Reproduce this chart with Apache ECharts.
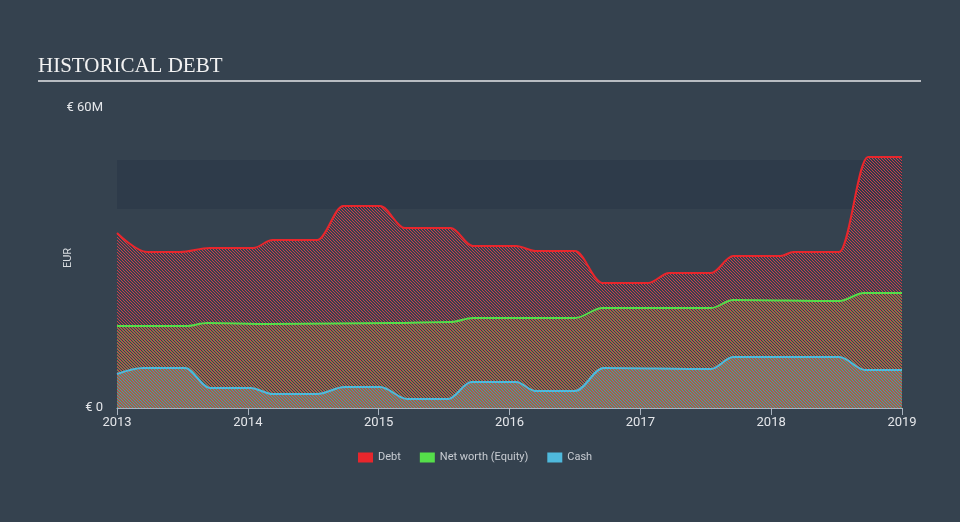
<!DOCTYPE html>
<html><head><meta charset="utf-8">
<script src="https://cdn.jsdelivr.net/npm/echarts@6/dist/echarts.min.js"></script>
<style>html,body{margin:0;padding:0;background:#35424f;}#c{width:960px;height:522px;}</style>
</head><body><div id="c"></div>
<script>
const yAxisTicks = [0, 60];
const yTickLabels = ['€ 0', '€ 60M'];
const xTickYears = [2013, 2014, 2015, 2016, 2017, 2018, 2019];
const seriesNames = ['Debt', 'Net worth (Equity)', 'Cash'];

const debtX = [2013.0, 2013.23, 2013.48, 2013.71, 2014.04, 2014.19, 2014.53, 2014.73, 2015.01, 2015.20, 2015.55, 2015.72, 2016.05, 2016.20, 2016.50, 2016.71, 2017.06, 2017.22, 2017.54, 2017.71, 2018.07, 2018.17, 2018.52, 2018.74, 2019.0];
const debtY = [35.0, 31.2, 31.2, 32.0, 32.0, 33.6, 33.6, 40.4, 40.4, 36.0, 36.0, 32.4, 32.4, 31.4, 31.4, 25.0, 25.0, 27.0, 27.0, 30.4, 30.4, 31.2, 31.2, 50.2, 50.2];

const equityX = [2013.0, 2013.53, 2013.69, 2014.17, 2014.65, 2015.1, 2015.55, 2015.72, 2016.05, 2016.50, 2016.71, 2017.54, 2017.71, 2018.52, 2018.71, 2019.0];
const equityY = [16.4, 16.4, 17.0, 16.8, 16.9, 17.0, 17.2, 18.0, 18.0, 18.0, 20.0, 20.0, 21.6, 21.4, 23.0, 23.0];

const cashX = [2013.0, 2013.2, 2013.52, 2013.71, 2014.02, 2014.19, 2014.53, 2014.74, 2015.01, 2015.22, 2015.53, 2015.71, 2016.05, 2016.2, 2016.5, 2016.72, 2017.54, 2017.71, 2018.52, 2018.72, 2019.0];
const cashY = [6.8, 8.0, 8.0, 4.0, 4.0, 2.8, 2.8, 4.2, 4.2, 1.8, 1.8, 5.2, 5.2, 3.4, 3.4, 8.0, 7.8, 10.2, 10.2, 7.6, 7.6];

const bandRange = [39.8, 49.6];

function zip(xs, ys){ return xs.map((x,i)=>[x, ys[i]]); }

function hatch(color, off){
  const c = document.createElement('canvas');
  c.width = 3; c.height = 3;
  const g = c.getContext('2d');
  g.fillStyle = color;
  for (let y=0;y<3;y++) for (let x=0;x<3;x++){
    if (((x - y + off) % 3 + 3) % 3 === 0) g.fillRect(x,y,1,1);
  }
  return {image: c, repeat: 'repeat'};
}

const colors = ['#e8262c', '#55de4a', '#4fb9dc'];
const hatchColors = ['rgba(230,60,72,0.85)', 'rgba(150,190,70,0.6)', 'rgba(95,185,210,0.7)'];

const chart = echarts.init(document.getElementById('c'), null, {renderer:'canvas'});
const datasets = [zip(debtX, debtY), zip(equityX, equityY), zip(cashX, cashY)];

chart.setOption({
  backgroundColor: '#35424f',
  animation: false,
  grid: {left:117, right:58, top:108, bottom:114},
  graphic: [
    {type:'text', left:38, top:56, style:{text:'HISTORICAL DEBT', fill:'#f2f2f2', font:'21px "Liberation Serif", "DejaVu Serif", serif'}},
    {type:'rect', shape:{x:38, y:80, width:883, height:2}, style:{fill:'#b8bcc2'}}
  ],
  legend: {
    left: 353, top: 447, icon: 'rect', itemWidth: 15, itemHeight: 10, itemGap: 19,
    textStyle: {color:'#c8ccd2', fontSize: 11, fontFamily:'Roboto, "Liberation Sans", sans-serif'},
    data: seriesNames.map((n,i)=>({name:n, itemStyle:{color:colors[i]}}))
  },
  xAxis: {
    type:'value', min:2013, max:2019, interval:1,
    axisLine:{show:true, lineStyle:{color:'#aab4c0', width:1}},
    axisTick:{show:true, length:7, lineStyle:{color:'#aab4c0'}},
    axisLabel:{color:'#e4e6ea', fontSize:13, margin:8, formatter:v=>xTickYears.includes(v)?String(v):'', fontFamily:'Roboto, "Liberation Sans", sans-serif'},
    splitLine:{show:false}
  },
  yAxis: {
    type:'value', min:0, max:60, interval:60,
    name:'EUR', nameLocation:'middle', nameGap:43, nameRotate:90, nameMoveOverlap:false,
    nameTextStyle:{color:'#d8dce0', fontSize:11, fontFamily:'Roboto, "Liberation Sans", sans-serif'},
    axisLine:{show:false}, axisTick:{show:false}, splitLine:{show:false},
    axisLabel:{color:'#e4e6ea', fontSize:13, margin:14, fontFamily:'Roboto, "Liberation Sans", sans-serif',
      formatter:v=>{const i=yAxisTicks.indexOf(v); return i>=0?yTickLabels[i]:'';}}
  },
  series: seriesNames.map((n,i)=>({
    name:n, type:'line', data:datasets[i], showSymbol:false, smooth:0.35, smoothMonotone:'x',
    color: colors[i],
    lineStyle:{color:colors[i], width:2},
    areaStyle:{color: hatch(hatchColors[i], i), opacity:1},
    z: 2 + i,
    markArea: i===0 ? {silent:true, itemStyle:{color:'#2e3b4a'}, z:1,
      data:[[{yAxis:bandRange[0], x:117}, {yAxis:bandRange[1], x:902}]]} : undefined
  }))
});
</script></body></html>
